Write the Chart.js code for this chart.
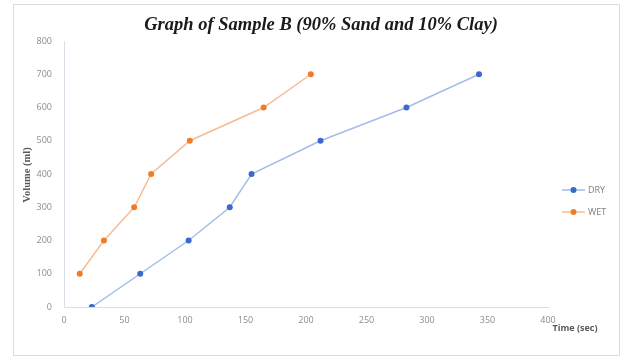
<!DOCTYPE html>
<html>
<head>
<meta charset="utf-8">
<script src="https://cdn.jsdelivr.net/npm/chart.js@4.4.1/dist/chart.umd.min.js"></script>
<style>
  html, body { margin: 0; padding: 0; background: #fff; }
  #wrap { position: relative; width: 631px; height: 363px; }
  #frame { position: absolute; left: 13px; top: 4px; width: 607px; height: 352px; border: 1px solid #dcdcdc; box-sizing: border-box; pointer-events: none; }
  canvas { position: absolute; left: 0; top: 0; }
</style>
</head>
<body>
<div id="wrap">
  <canvas id="c" width="631" height="363"></canvas>
  <div id="frame"></div>
</div>
<script>
// Time (sec) at which each volume reading was taken
const dryTime = [23, 63, 103, 137, 155, 212, 283, 343];
const dryVolume = [0, 100, 200, 300, 400, 500, 600, 700];
const wetTime = [13, 33, 58, 72, 104, 165, 204];
const wetVolume = [100, 200, 300, 400, 500, 600, 700];
const seriesNames = ['DRY', 'WET'];
const titleText = 'Graph of Sample B (90% Sand and 10% Clay)';
const xTitle = 'Time (sec)';
const yTitle = 'Volume (ml)';

const pairs = (xs, ys) => xs.map((x, i) => ({ x: x, y: ys[i] }));

const styles = [
  { line: '#a3bdea', point: '#3b68cc' },
  { line: '#f7bc93', point: '#f07c28' }
];

// Chart title, axis titles and the side legend, drawn in the free margins
const extras = {
  id: 'extras',
  afterDraw(chart) {
    const ctx = chart.ctx;
    ctx.save();
    ctx.textAlign = 'center';
    ctx.textBaseline = 'middle';

    ctx.fillStyle = '#1a1a1a';
    ctx.font = 'italic bold 18.5px "Liberation Serif"';
    ctx.fillText(titleText, 321, 25);

    ctx.fillStyle = '#595959';
    ctx.font = 'bold 10.5px "Liberation Serif"';
    ctx.save();
    ctx.translate(27, 175);
    ctx.rotate(-Math.PI / 2);
    ctx.fillText(yTitle, 0, 0);
    ctx.restore();
    ctx.font = 'bold 9px "Open Sans"';
    ctx.fillText(xTitle, 575, 328);

    // legend entries
    chart.data.datasets.forEach((ds, i) => {
      const y = 190 + i * 22;
      ctx.strokeStyle = ds.borderColor;
      ctx.lineWidth = 1.5;
      ctx.beginPath();
      ctx.moveTo(562, y);
      ctx.lineTo(585, y);
      ctx.stroke();
      ctx.fillStyle = ds.pointBackgroundColor;
      ctx.beginPath();
      ctx.arc(573.5, y, 3, 0, Math.PI * 2);
      ctx.fill();
      ctx.fillStyle = '#7f7f7f';
      ctx.font = '9px "Open Sans"';
      ctx.textAlign = 'left';
      ctx.fillText(ds.label, 588, y);
    });
    ctx.restore();
  }
};

new Chart(document.getElementById('c'), {
  type: 'scatter',
  data: {
    datasets: [
      {
        label: seriesNames[0],
        data: pairs(dryTime, dryVolume),
        showLine: true,
        borderColor: styles[0].line,
        borderWidth: 1.5,
        pointBackgroundColor: styles[0].point,
        pointBorderColor: styles[0].point,
        pointRadius: 3,
        pointBorderWidth: 0
      },
      {
        label: seriesNames[1],
        data: pairs(wetTime, wetVolume),
        showLine: true,
        borderColor: styles[1].line,
        borderWidth: 1.5,
        pointBackgroundColor: styles[1].point,
        pointBorderColor: styles[1].point,
        pointRadius: 3,
        pointBorderWidth: 0
      }
    ]
  },
  options: {
    responsive: false,
    animation: false,
    events: [],
    layout: { padding: { left: 20, right: 83, top: 41, bottom: 10 } },
    plugins: {
      legend: { display: false },
      tooltip: { enabled: false },
      title: { display: false }
    },
    scales: {
      x: {
        type: 'linear',
        min: 0,
        max: 400,
        ticks: { stepSize: 50, color: '#8c8c8c', font: { family: 'Open Sans', size: 9 }, padding: 8 },
        grid: { display: false, drawTicks: false },
        border: { display: true, color: '#d9dee8', width: 1 },
        afterFit(s) { s.height = 46; }
      },
      y: {
        min: 0,
        max: 800,
        ticks: { stepSize: 100, color: '#8c8c8c', font: { family: 'Open Sans', size: 9 }, padding: 12 },
        grid: { display: false, drawTicks: false },
        border: { display: true, color: '#d9dee8', width: 1 },
        afterFit(s) { s.width = 44; }
      }
    }
  },
  plugins: [extras]
});
</script>
</body>
</html>
